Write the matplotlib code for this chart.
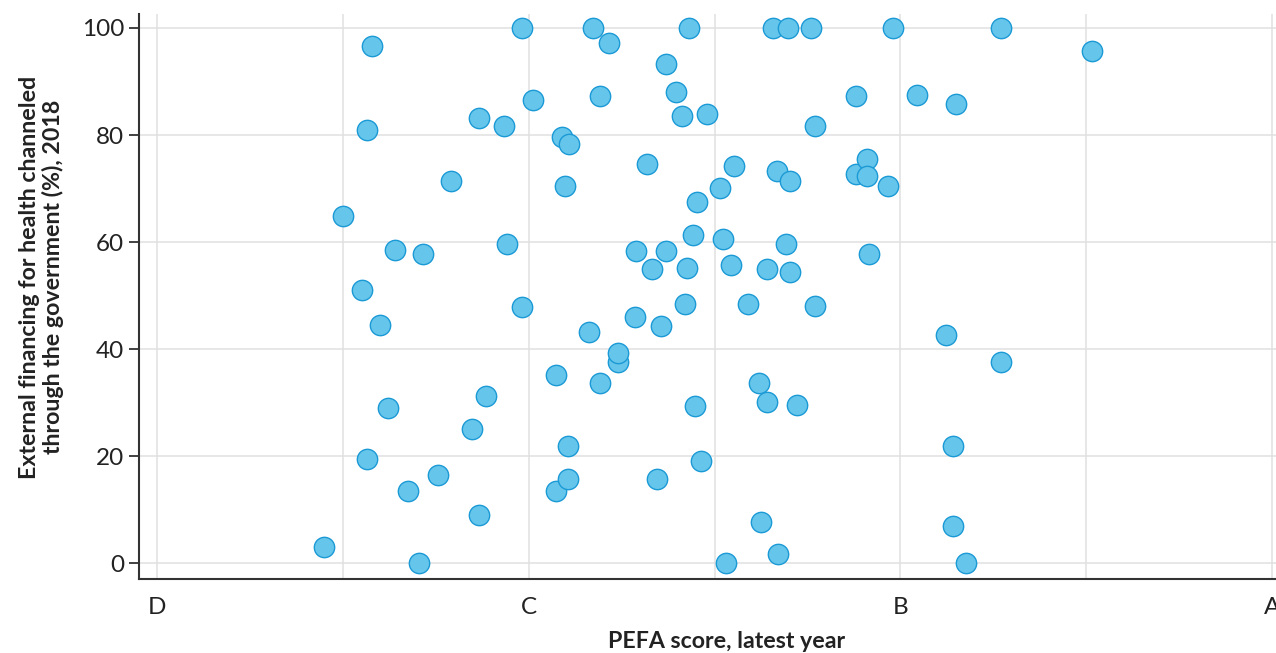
import matplotlib
matplotlib.use("Agg")
import matplotlib.pyplot as plt

plt.rcParams['font.family'] = ['Lato', 'DejaVu Sans']

# PEFA score on numeric scale: D=1, C=2, B=3, A=4
pefa_score = [
    1.450, 1.501, 1.552, 1.566, 1.579, 1.566, 1.601, 1.622, 1.641, 1.676,
    1.705, 1.716, 1.756, 1.791, 1.848, 1.866, 1.866, 1.885, 1.934, 1.942,
    1.983, 1.983, 2.012, 2.074, 2.074, 2.090, 2.098, 2.107, 2.109, 2.107,
    2.161, 2.174, 2.192, 2.192, 2.217, 2.241, 2.241, 2.287, 2.290, 2.319,
    2.333, 2.346, 2.357, 2.370, 2.370, 2.397, 2.413, 2.421, 2.426, 2.432,
    2.442, 2.448, 2.453, 2.464, 2.480, 2.515, 2.523, 2.531, 2.545, 2.553,
    2.590, 2.620, 2.625, 2.641, 2.641, 2.657, 2.668, 2.671, 2.692, 2.698,
    2.703, 2.703, 2.722, 2.760, 2.771, 2.771, 2.881, 2.881, 2.911, 2.911,
    2.916, 2.967, 2.980, 3.045, 3.123, 3.142, 3.142, 3.150, 3.177, 3.271,
    3.271, 3.516,
]
external_via_gov = [
    3.1, 64.8, 51.0, 81.0, 96.6, 19.5, 44.5, 29.0, 58.5, 13.5,
    0.1, 57.7, 16.5, 71.4, 25.1, 83.1, 9.0, 31.3, 81.6, 59.6,
    100.0, 47.9, 86.5, 35.2, 13.5, 79.6, 70.4, 21.9, 78.4, 15.8,
    43.2, 100.0, 87.2, 33.7, 97.1, 37.7, 39.3, 46.0, 58.3, 74.5,
    54.9, 15.8, 44.3, 93.2, 58.3, 88.0, 83.5, 48.4, 55.1, 100.0,
    61.3, 29.4, 67.4, 19.1, 84.0, 70.2, 60.5, 0.1, 55.7, 74.2,
    48.4, 33.7, 7.7, 54.9, 30.1, 100.0, 73.2, 1.8, 59.6, 100.0,
    71.4, 54.4, 29.6, 100.0, 81.6, 48.0, 87.2, 72.7, 75.5, 72.3,
    57.7, 70.4, 100.0, 87.5, 42.6, 21.9, 7.0, 85.7, 0.1, 100.0,
    37.7, 95.6,
]

grade_positions = [1, 2, 3, 4]
grade_labels = ['D', 'C', 'B', 'A']
grid_x = [1, 1.5, 2, 2.5, 3, 3.5, 4]
y_ticks = [0, 20, 40, 60, 80, 100]

text_color = '#222222'
spine_color = '#333333'

fig = plt.figure(figsize=(12.76, 6.53), dpi=100)
ax = fig.add_axes([0.1092, 0.1133, 0.8908, 0.8653])

for gx in grid_x:
    ax.axvline(gx, color='#e0e0e0', lw=1.1, zorder=0)
for gy in y_ticks:
    ax.axhline(gy, color='#e0e0e0', lw=1.1, zorder=0)

ax.scatter(pefa_score, external_via_gov, s=215, facecolor='#66c5ea',
           edgecolor='#1b9ad6', linewidth=1.0, zorder=3)

ax.set_xlim(0.953, 4.01)
ax.set_ylim(-2.9, 102.6)

ax.set_xticks(grade_positions)
ax.set_xticklabels(grade_labels)
ax.set_yticks(y_ticks)

for s in ['top', 'right']:
    ax.spines[s].set_visible(False)
for s in ['left', 'bottom']:
    ax.spines[s].set_color(spine_color)
    ax.spines[s].set_linewidth(1.5)

ax.tick_params(axis='x', length=0, pad=13, labelsize=17.5, labelcolor=text_color)
ax.tick_params(axis='y', length=7, width=1.3, color=spine_color, pad=4,
               labelsize=17.5, labelcolor=text_color)

ax.set_xlabel('PEFA score, latest year', fontsize=16.7, fontweight='bold',
              color=text_color)
ax.xaxis.set_label_coords(0.517, -0.092)
ax.set_ylabel('External financing for health channeled\nthrough the government (%), 2018',
              fontsize=16.7, fontweight='bold', color=text_color, linespacing=1.1)
ax.yaxis.set_label_coords(-0.066, 0.534)

fig.savefig('out.png', dpi=100)
